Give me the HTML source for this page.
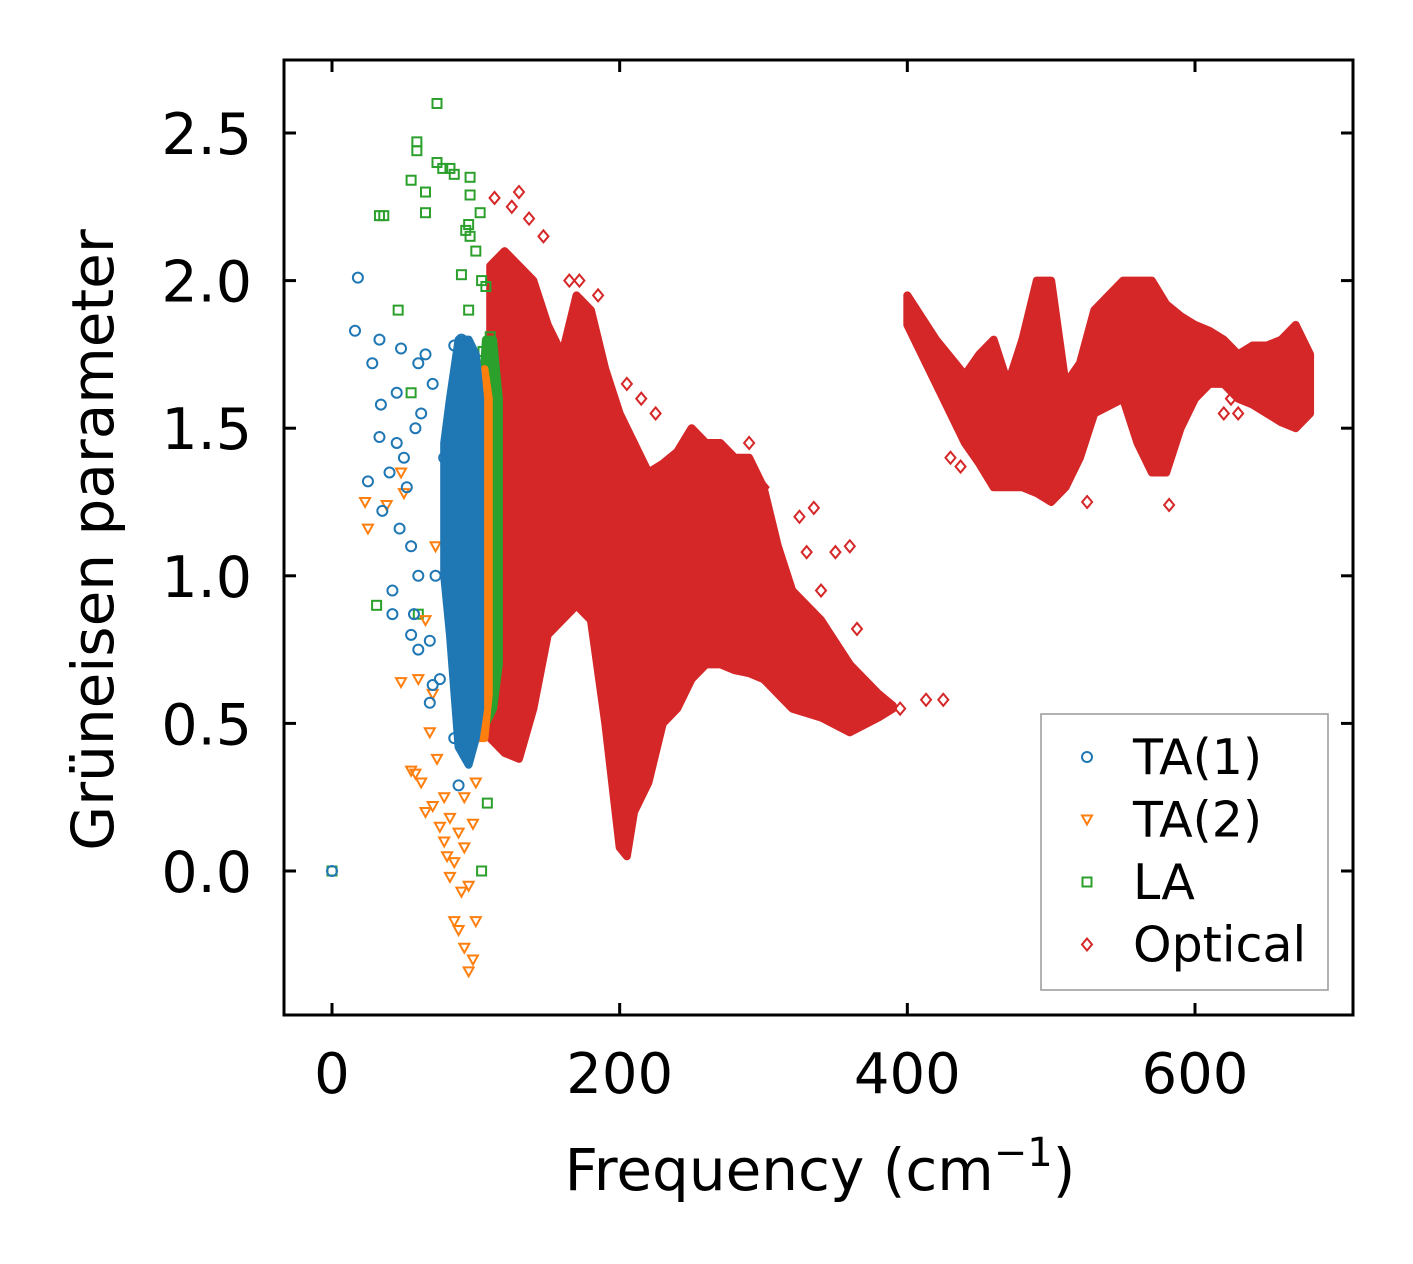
<!DOCTYPE html>
<html><head><meta charset="utf-8">
<style>
html,body{margin:0;padding:0;background:#fff;}
svg{display:block;font-family:"DejaVu Sans","Liberation Sans",sans-serif;}
</style></head>
<body>
<svg id="chart" width="1413" height="1264" viewBox="0 0 1413 1264" xmlns="http://www.w3.org/2000/svg">
<g id="marks"></g>
<rect x="284" y="60" width="1069" height="955" fill="none" stroke="#000" stroke-width="3"/>
<g id="axes"></g>
<text x="820" y="1190" font-size="58" text-anchor="middle">Frequency (cm<tspan dy="-24" font-size="40">−1</tspan><tspan dy="24">)</tspan></text>
<text transform="translate(113,540) rotate(-90)" font-size="58" text-anchor="middle">Grüneisen parameter</text>
<g>
<rect x="1041" y="714" width="287" height="276" fill="#fff" stroke="#999" stroke-width="1.5"/>
<g id="legend-items"></g>
</g>
</svg>
<script>
// ---- data ----
const xTicks = [0, 200, 400, 600];
const yTicks = [0.0, 0.5, 1.0, 1.5, 2.0, 2.5];
const yTickLabels = ["0.0", "0.5", "1.0", "1.5", "2.0", "2.5"];
const seriesNames = ["TA(1)", "TA(2)", "LA", "Optical"];
const seriesColors = ["#1f77b4", "#ff7f0e", "#2ca02c", "#d62728"];

// dense band envelopes (frequency, lower, upper)
const ta1BandFreq = [78, 82, 88, 95, 100, 103];
const ta1BandLow = [1.0, 0.8, 0.42, 0.36, 0.45, 0.55];
const ta1BandHigh = [1.45, 1.6, 1.8, 1.8, 1.75, 1.6];
const ta2BandFreq = [98, 102, 106, 109];
const ta2BandLow = [0.55, 0.45, 0.45, 0.6];
const ta2BandHigh = [1.3, 1.6, 1.7, 1.6];
const laBandFreq = [103, 107, 112, 116];
const laBandLow = [0.6, 0.5, 0.55, 0.7];
const laBandHigh = [1.5, 1.8, 1.8, 1.6];
const opt1Freq = [110,120,130,140,150,160,170,180,190,200,205,210,220,230,240,250,260,270,280,290,300,310,320,340,360,380,390];
const opt1Low  = [0.45,0.4,0.38,0.55,0.8,0.85,0.9,0.85,0.5,0.08,0.05,0.2,0.3,0.5,0.55,0.65,0.7,0.7,0.68,0.67,0.65,0.6,0.55,0.52,0.47,0.52,0.55];
const opt1High = [2.05,2.1,2.05,2.0,1.85,1.75,1.95,1.9,1.7,1.55,1.5,1.45,1.35,1.38,1.42,1.5,1.45,1.45,1.4,1.4,1.3,1.1,0.95,0.85,0.7,0.6,0.56];
const opt2Freq = [400,420,440,450,460,470,480,490,500,510,520,530,550,560,570,580,590,600,610,620,630,640,650,660,670,680];
const opt2Low  = [1.85,1.65,1.45,1.38,1.3,1.3,1.3,1.28,1.25,1.3,1.4,1.55,1.6,1.45,1.35,1.35,1.5,1.6,1.65,1.65,1.6,1.58,1.55,1.52,1.5,1.55];
const opt2High = [1.95,1.8,1.68,1.75,1.8,1.65,1.8,2.0,2.0,1.65,1.72,1.9,2.0,2.0,2.0,1.92,1.88,1.85,1.83,1.8,1.75,1.78,1.78,1.8,1.85,1.75];

// scattered points
const ta1Freq = [0,18,16,28,33,34,33,40,45,48,45,50,52,58,55,60,60,62,65,70,42,42,57,55,60,68,70,68,75,88,85,25,35,47,72,78,85,90,92];
const ta1Gamma = [0,2.01,1.83,1.72,1.8,1.58,1.47,1.35,1.62,1.77,1.45,1.4,1.3,1.5,1.1,1.72,1.0,1.55,1.75,1.65,0.95,0.87,0.87,0.8,0.75,0.78,0.63,0.57,0.65,0.29,0.45,1.32,1.22,1.16,1.0,1.4,1.78,1.8,1.65];
const ta2Freq = [23,25,38,48,50,48,55,58,62,68,70,73,65,70,75,78,80,82,85,90,85,88,92,95,98,100,95,98,92,100,78,82,88,92,65,60,72,80,90];
const ta2Gamma = [1.25,1.16,1.24,1.35,1.28,0.64,0.34,0.33,0.3,0.47,0.6,0.38,0.2,0.22,0.15,0.1,0.05,-0.02,0.03,-0.07,-0.17,-0.2,-0.26,-0.34,-0.3,-0.17,-0.05,0.16,0.25,0.3,0.25,0.18,0.13,0.08,0.85,0.65,1.1,1.4,1.55];
const laFreq = [73,59,59,73,77,82,85,96,96,55,65,33,36,65,93,96,103,95,100,90,104,107,46,95,55,110,105,31,60,108,104,0];
const laGamma = [2.6,2.47,2.44,2.4,2.38,2.38,2.36,2.35,2.29,2.34,2.3,2.22,2.22,2.23,2.17,2.15,2.23,2.19,2.1,2.02,2.0,1.98,1.9,1.9,1.62,1.81,1.76,0.9,0.87,0.23,0.0,0.0];
const optFreq = [130,137,147,165,172,205,215,225,290,300,325,335,330,340,350,360,365,395,413,425,430,437,525,582,620,630,625,575,113,125,180,185];
const optGamma = [2.3,2.21,2.15,2.0,2.0,1.65,1.6,1.55,1.45,1.3,1.2,1.23,1.08,0.95,1.08,1.1,0.82,0.55,0.58,0.58,1.4,1.37,1.25,1.24,1.55,1.55,1.6,1.43,2.28,2.25,1.85,1.95];

// ---- axes ----
const X0 = 332, XS = (1195 - 332) / 600;
const Y0 = 871, YS = (871 - 133) / 2.5;
const xPos = v => X0 + v * XS;
const yPos = v => Y0 - v * YS;
const NS = "http://www.w3.org/2000/svg";
const marks = document.getElementById("marks");
const axes = document.getElementById("axes");
function mk(tag, attrs, parent) {
  const e = document.createElementNS(NS, tag);
  for (const k in attrs) e.setAttribute(k, attrs[k]);
  parent.appendChild(e);
  return e;
}
xTicks.forEach((t, i) => {
  const x = xPos(t);
  const b = mk("line", {x1: x, x2: x, y1: 1015, y2: 1003, stroke: "#000", "stroke-width": 3}, axes);
  
  
  const tp = mk("line", {x1: x, x2: x, y1: 60, y2: 72, stroke: "#000", "stroke-width": 3}, axes);
  
  
  const l = mk("text", {x: x, y: 1093, "font-size": 56, "text-anchor": "middle"}, axes);
  
  
  l.textContent = String(t);
});
yTicks.forEach((t, i) => {
  const y = yPos(t);
  const a = mk("line", {x1: 284, x2: 296, y1: y, y2: y, stroke: "#000", "stroke-width": 3}, axes);
  
  
  const r = mk("line", {x1: 1341, x2: 1353, y1: y, y2: y, stroke: "#000", "stroke-width": 3}, axes);
  
  
  const l = mk("text", {x: 252, y: y + 21, "font-size": 57, "text-anchor": "end"}, axes);
  
  
  l.textContent = yTickLabels[i];
});

// ---- marker shapes ----
function marker(kind, cx, cy, color, parent, s) {
  s = s || 5;
  let e;
  if (kind === 0) e = mk("circle", {cx: cx, cy: cy, r: s}, parent);
  else if (kind === 1) e = mk("polygon", {points: `${cx-s},${cy-s*0.8} ${cx+s},${cy-s*0.8} ${cx},${cy+s}`}, parent);
  else if (kind === 2) e = mk("rect", {x: cx - s*0.9, y: cy - s*0.9, width: s*1.8, height: s*1.8}, parent);
  else e = mk("polygon", {points: `${cx},${cy-s*1.2} ${cx+s},${cy} ${cx},${cy+s*1.2} ${cx-s},${cy}`}, parent);
  e.setAttribute("fill", "none");
  e.setAttribute("stroke", color);
  e.setAttribute("stroke-width", 2);
  return e;
}
function band(freq, low, high, color, name) {
  let pts = [];
  for (let i = 0; i < freq.length; i++) pts.push(xPos(freq[i]) + "," + yPos(high[i]));
  for (let i = freq.length - 1; i >= 0; i--) pts.push(xPos(freq[i]) + "," + yPos(low[i]));
  const p = mk("polygon", {points: pts.join(" "), fill: color, stroke: color, "stroke-width": 8, "stroke-linejoin": "round"}, marks);
  
  
}
function scatter(freq, gamma, kind, color, name) {
  for (let i = 0; i < freq.length; i++) {
    const m = marker(kind, xPos(freq[i]), yPos(gamma[i]), color, marks);
    
    
  }
}
band(opt1Freq, opt1Low, opt1High, seriesColors[3], "optical-band-low-freq");
band(opt2Freq, opt2Low, opt2High, seriesColors[3], "optical-band-high-freq");
scatter(optFreq, optGamma, 3, seriesColors[3], "optical-point");
band(laBandFreq, laBandLow, laBandHigh, seriesColors[2], "la-band");
scatter(laFreq, laGamma, 2, seriesColors[2], "la-point");
band(ta2BandFreq, ta2BandLow, ta2BandHigh, seriesColors[1], "ta2-band");
scatter(ta2Freq, ta2Gamma, 1, seriesColors[1], "ta2-point");
band(ta1BandFreq, ta1BandLow, ta1BandHigh, seriesColors[0], "ta1-band");
scatter(ta1Freq, ta1Gamma, 0, seriesColors[0], "ta1-point");

// ---- legend ----
const li = document.getElementById("legend-items");
seriesNames.forEach((n, i) => {
  const y = 757 + i * 62.5;
  const m = marker(i, 1087, y, seriesColors[i], li, 5);
  
  
  const t = mk("text", {x: 1133, y: y + 17, "font-size": 49}, li);
  
  
  t.textContent = n;
});
</script>
</body></html>
